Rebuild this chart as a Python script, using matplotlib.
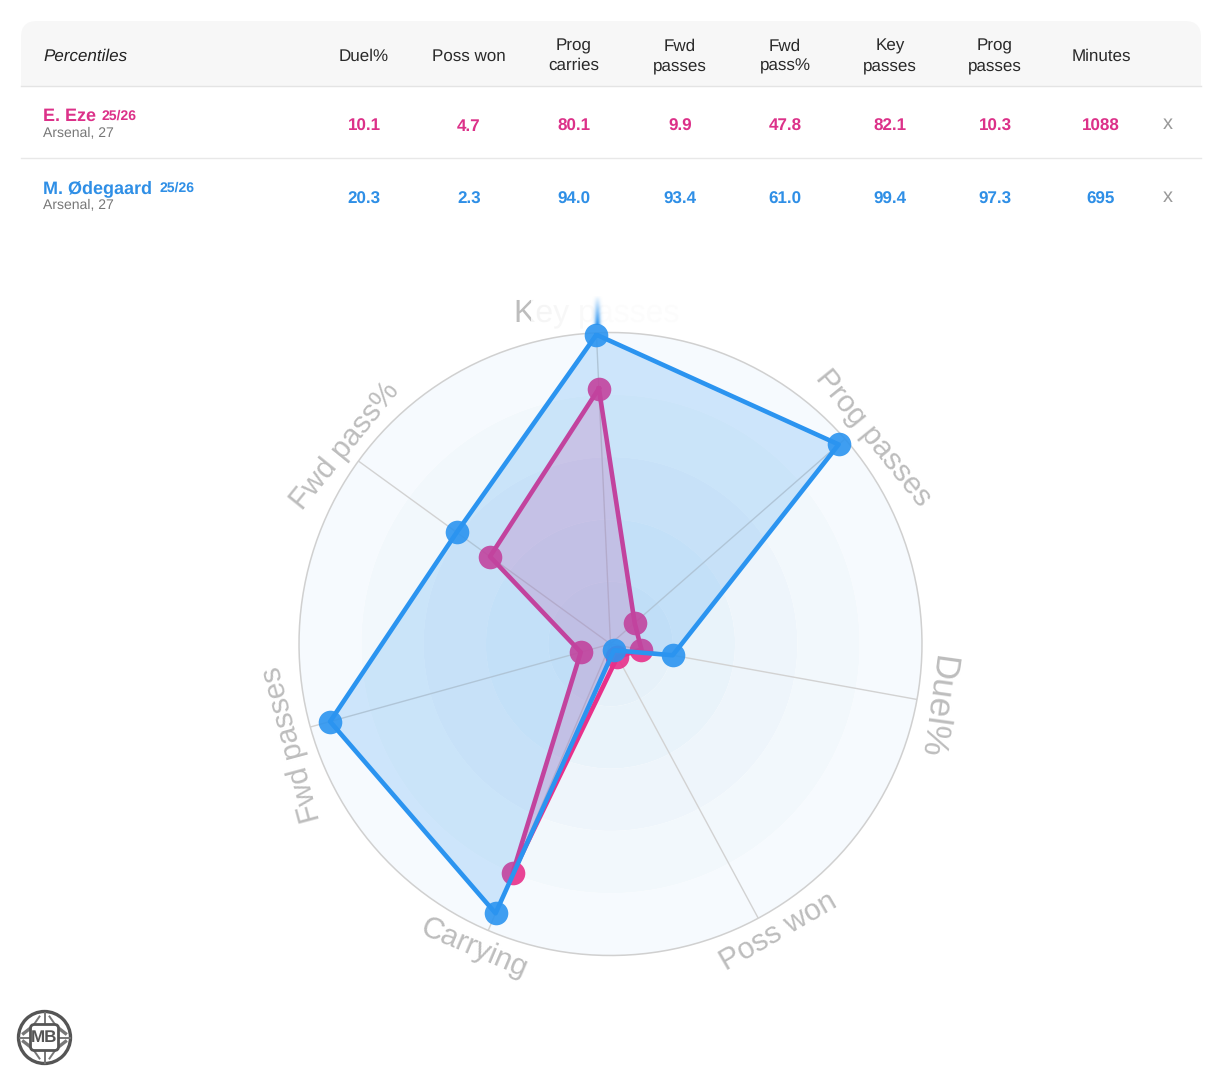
#!/usr/bin/env python3

import matplotlib
matplotlib.use("Agg")
import matplotlib.pyplot as plt
from matplotlib.patches import Circle, FancyBboxPatch, Rectangle
import numpy as np

plt.rcParams["font.family"] = ["Liberation Sans", "DejaVu Sans"]
plt.rcParams["text.hinting"] = "none"
plt.rcParams["text.hinting_factor"] = 1

# table
header_labels = ["Duel%", "Poss won", "Prog\ncarries", "Fwd\npasses", "Fwd\npass%",
                 "Key\npasses", "Prog\npasses", "Minutes"]
eze_row = ["10.1", "4.7", "80.1", "9.9", "47.8", "82.1", "10.3", "1088"]
odegaard_row = ["20.3", "2.3", "94.0", "93.4", "61.0", "99.4", "97.3", "695"]

# radar, clockwise from the top
radar_labels = ["Key passes", "Prog passes", "Duel%", "Poss won", "Carrying", "Fwd passes", "Fwd pass%"]
eze_values = [82.1, 10.3, 10.1, 4.7, 80.1, 9.9, 47.8]
odegaard_values = [99.4, 97.3, 20.3, 2.3, 94.0, 93.4, 61.0]
ring_edges = [0, 20, 40, 60, 80, 100]
ring_colors = ["#e6f1f9", "#e9f3fa", "#eef5fb", "#f2f8fc", "#f6fafe"]

PINK = "#e8308a"
BLUE = "#2b94f0"
GREY = "#bdbdbd"

W, H = 1221, 1080
fig = plt.figure(figsize=(W / 100, H / 100), dpi=100, facecolor="white")

bg = fig.add_axes([0, 0, 1, 1], zorder=0)
bg.set_xlim(0, W)
bg.set_ylim(H, 0)
bg.axis("off")

# header band with rounded top corners
bg.add_patch(FancyBboxPatch((21, 21), 1180, 90, boxstyle="round,pad=0,rounding_size=16",
                            fc="#f7f7f7", ec="none"))
bg.add_patch(Rectangle((15, 85.5), 1192, 40, fc="white", ec="none"))
bg.plot([21, 1201], [85.5, 85.5], color="#e4e4e4", lw=1)
bg.plot([21, 1201], [157.5, 157.5], color="#e8e8e8", lw=1)

col_x = [364, 469, 574, 680, 785, 890, 995, 1101]
bg.text(43, 56, "Percentiles", fontsize=12.6, style="italic", color="#222222", va="center")
for x, label in zip(col_x, header_labels):
    bg.text(x, 56, label, fontsize=12.3, color="#2a2a2a", ha="center", va="center", linespacing=1.3)

rows = [(126.5, "E. Eze", 102, "#dc3189", eze_row), (199, "M. Ødegaard", 160, "#2f8fe6", odegaard_row)]
for y, name, season_x, color, row in rows:
    bg.text(43, y - 10, name, fontsize=13.3, fontweight="bold", color=color, va="center")
    bg.text(season_x, y - 10.5, "25/26", fontsize=10.3, fontweight="bold", color=color, va="center")
    bg.text(43, y + 6, "Arsenal, 27", fontsize=10, color="#777777", va="center")
    for x, val in zip(col_x, row):
        bg.text(x, y, val, fontsize=12.6, fontweight="bold", color=color, ha="center", va="center")
    bg.text(1168, y - 2.5, "x", fontsize=14.5, color="#999999", ha="center", va="center")

# radar
cx, cy, R = 610.5, 644, 311.5
ax = fig.add_axes([(cx - R) / W, 1 - (cy + R) / H, 2 * R / W, 2 * R / H], projection="polar", zorder=2)
ax.patch.set_alpha(0)
ax.set_theta_zero_location("N")
ax.set_theta_direction(-1)
ax.set_theta_offset(np.pi / 2 + np.radians(2.6))
ax.set_ylim(0, 100)
ax.set_xticks([])
ax.set_yticks([])
ax.grid(False)
ax.spines["polar"].set_visible(False)

angles = np.arange(len(radar_labels)) * 2 * np.pi / len(radar_labels)
closed = np.append(angles, angles[0])

for i in range(len(ring_colors)):
    ax.bar(0, ring_edges[i + 1] - ring_edges[i], width=2 * np.pi, bottom=ring_edges[i],
           color=ring_colors[i], edgecolor="none", zorder=1)
for a in angles:
    ax.plot([a, a], [0, 100], color="#d2d2d2", lw=1, zorder=2)
rim = np.linspace(0, 2 * np.pi, 361)
ax.plot(rim, np.full_like(rim, 100), color="#d0d0d0", lw=1.1, zorder=2, clip_on=False)


def draw_player(values, color, z):
    vals = np.append(values, values[0])
    ax.fill(closed, vals, color=color, alpha=0.2, lw=0, zorder=z)
    ax.plot(closed, vals, color=color, lw=3.3, zorder=z + 0.1)
    ax.plot(angles, values, "o", color=color, ms=17, alpha=0.9, mew=0, zorder=z + 0.2, clip_on=False)


draw_player(eze_values, PINK, 3)
draw_player(odegaard_values, BLUE, 4)

# axis labels outside the rim, the top one goes under the smear
label_r = [107.4, 107.2, 106.6, 107.0, 107.0, 107.2, 106.2]
label_rot = [0, -51, -98, 30, -23, 105, 51]
label_shift = [0, 3, 0.6, -2, 1, -2, 0.7]
label_size = [23.2, 21.5, 25, 21.5, 21.5, 21.8, 21.5]
bg.text(597, 313, radar_labels[0], fontsize=label_size[0], color=GREY, ha="center", va="center")
for i, name in enumerate(radar_labels):
    if i == 0:
        continue
    ax.text(angles[i] + np.radians(label_shift[i]), label_r[i], name, fontsize=label_size[i], color=GREY,
            rotation=label_rot[i], rotation_mode="anchor", ha="center", va="center", clip_on=False, zorder=5)

# the top label is smeared in the reference
over = fig.add_axes([531 / W, 1 - 332 / H, 155 / W, 42 / H], zorder=1)
over.axis("off")
fade = np.ones((1, 155, 4))
fade[0, :, 3] = np.clip(np.linspace(0.84, 1.1, 155), 0, 0.97)
over.imshow(fade, aspect="auto")
streak = np.zeros((30, 15, 4))
streak[:, :, :3] = matplotlib.colors.to_rgb(BLUE)
streak[:, :, 3] = np.outer(np.linspace(0, 0.95, 30), np.exp(-((np.arange(15) - 7) / 3.0) ** 2))
over2 = fig.add_axes([589.5 / W, 1 - 325 / H, 15 / W, 30 / H], zorder=3)
over2.axis("off")
over2.imshow(streak, aspect="auto", interpolation="bilinear")

# logo
lx, ly = 44.5, 1037.5
bg.add_patch(Circle((lx, ly), 26, fc="none", ec="#555555", lw=2.4))
for dx, dy in [(0, -25), (0, 25), (-25, 0), (25, 0)]:
    bg.plot([lx, lx + dx], [ly, ly + dy], color="#777777", lw=1.4, zorder=1)
for sx in (-1, 1):
    for sy in (-1, 1):
        bg.plot([lx + sx * 12, lx + sx * 21], [ly + sy * 11, ly + sy * 4], color="#777777", lw=2.4, zorder=1)
        bg.plot([lx + sx * 12, lx + sx * 5], [ly + sy * 11, ly + sy * 21], color="#777777", lw=1.4, zorder=1)
bg.add_patch(FancyBboxPatch((lx - 14, ly - 13), 28, 26, boxstyle="round,pad=0,rounding_size=4",
                            fc="white", ec="#555555", lw=2, zorder=2))
bg.text(lx, ly + 0.5, "MB", fontsize=12, fontweight="bold", color="#555555",
        ha="center", va="center", zorder=3)

fig.savefig("out.png", dpi=100)
